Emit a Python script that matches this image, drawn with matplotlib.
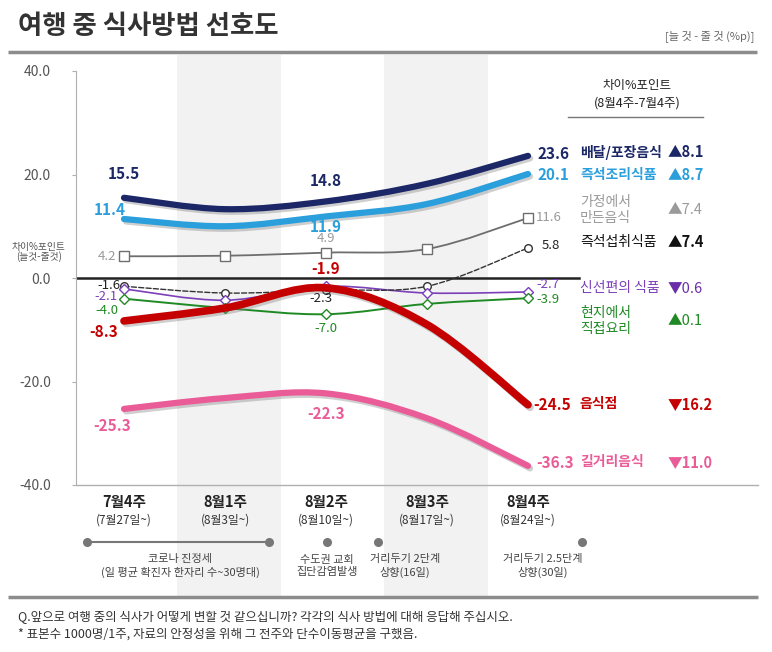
import numpy as np
import matplotlib
matplotlib.use('Agg')
import matplotlib.pyplot as plt
import matplotlib.patheffects as pe
from matplotlib.path import Path
from matplotlib.patches import PathPatch

plt.rcParams['font.family'] = ['Noto Sans CJK KR', 'DejaVu Sans']

# 데이터 (늘 것 - 줄 것, %p)
weeks = ['7월4주', '8월1주', '8월2주', '8월3주', '8월4주']
week_dates = ['(7월27일~)', '(8월3일~)', '(8월10일~)', '(8월17일~)', '(8월24일~)']

delivery = [15.5, 13.3, 14.8, 18.2, 23.6]      # 배달/포장음식
ready_cook = [11.4, 10.0, 11.9, 14.3, 20.1]    # 즉석조리식품
home_made = [4.2, 4.3, 4.9, 5.6, 11.6]         # 가정에서 만든음식
ready_eat = [-1.6, -2.9, -2.3, -1.6, 5.8]      # 즉석섭취식품
fresh_cut = [-2.1, -4.3, -1.6, -2.9, -2.7]     # 신선편의 식품
local_cook = [-4.0, -5.8, -7.0, -5.0, -3.9]    # 현지에서 직접요리
restaurant = [-8.3, -5.8, -1.9, -9.0, -24.5]   # 음식점
street = [-25.3, -23.2, -22.3, -27.1, -36.3]   # 길거리음식

names = ['배달/포장음식', '즉석조리식품', '가정에서\n만든음식', '즉석섭취식품',
         '신선편의 식품', '현지에서\n직접요리', '음식점', '길거리음식']

# 스타일: 색, 선굵기, 마커, 선종류, 그림자, 굵은 라벨, 라벨 위치(인덱스, dx, dy, ha)
styles = [
    dict(data=delivery, c='#1b2766', lw=4.5, m=None, ls='-', shadow=True, bold=True,
         labels=[(0, 0, 24, 'center'), (2, 0, 20, 'center'), (4, 10, 2, 'left')], ny=152, nc='#1b2766', dc='#1b2766'),
    dict(data=ready_cook, c='#2a9fdc', lw=4.5, m=None, ls='-', shadow=True, bold=True,
         labels=[(0, -14, 9, 'center'), (2, 0, -11, 'center'), (4, 10, -1, 'left')], ny=175, nc='#2a9fdc', dc='#2a9fdc'),
    dict(data=home_made, c='#6e6e6e', lw=1.3, m='s', ls='-', shadow=False, bold=False,
         labels=[(0, -8, 0, 'right'), (2, 0, 14, 'center'), (4, 8, 0, 'left')], ny=210, nc='#9a9a9a', dc='#9a9a9a', lc='#9a9a9a'),
    dict(data=ready_eat, c='#333333', lw=1.0, m='o', ls='--', shadow=False, bold=False,
         labels=[(0, -3, 1, 'right'), (2, -5, -9, 'center'), (4, 14, 2, 'left')], ny=242, nc='#111111', dc='#111111', lc='#222222'),
    dict(data=fresh_cut, c='#7b3fb8', lw=1.2, m='D', ls='-', shadow=False, bold=False,
         labels=[(0, -6, -8, 'right'), (4, 8, 7, 'left')], ny=288, nc='#7b3fb8', dc='#6a2fa8'),
    dict(data=local_cook, c='#1f8a24', lw=1.4, m='D', ls='-', shadow=False, bold=False,
         labels=[(0, -6, -12, 'right'), (2, 0, -14, 'center'), (4, 8, -1, 'left')], ny=321, nc='#1f8a24', dc='#1f8a24'),
    dict(data=restaurant, c='#c40000', lw=5.5, m=None, ls='-', shadow=True, bold=True,
         labels=[(0, -6, -11, 'right'), (2, 0, 19, 'center'), (4, 5, 0, 'left')], ny=404, nc='#c40000', dc='#c40000'),
    dict(data=street, c='#ea5c98', lw=4.5, m=None, ls='-', shadow=True, bold=True,
         labels=[(0, -12, -17, 'center'), (2, 0, -21, 'center'), (4, 8, 3, 'left')], ny=462, nc='#ea5c98', dc='#ea5c98'),
]

events = [
    ('코로나 진정세\n(일 평균 확진자 한자리 수~30명대)', [87, 269], 180),
    ('수도권 교회\n집단감염발생', [327], 327),
    ('거리두기 2단계\n상향(16일)', [378], 405),
    ('거리두기 2.5단계\n상향(30일)', [582], 543),
]


def smooth_path(xs, ys):
    pts = np.column_stack([xs, ys]).astype(float)
    n = len(pts)
    verts = [pts[0]]
    codes = [Path.MOVETO]
    for i in range(n - 1):
        p0 = pts[i - 1] if i > 0 else pts[i]
        p1 = pts[i]
        p2 = pts[i + 1]
        p3 = pts[i + 2] if i + 2 < n else pts[i + 1]
        verts += [p1 + (p2 - p0) / 6, p2 - (p3 - p1) / 6, p2]
        codes += [Path.CURVE4] * 3
    return Path(verts, codes)


W, H = 772, 652
fig = plt.figure(figsize=(W / 100, H / 100), dpi=100)

# 메인 축: 픽셀 76~764, 55~597
ax = fig.add_axes([76 / W, 1 - 597 / H, (764 - 76) / W, (597 - 55) / H])
ppu = (485 - 71) / 80
ax.set_ylim(-40 - (597 - 485) / ppu, 40 + (71 - 55) / ppu)
ax.set_xlim((76 - 124) / 101, (764 - 124) / 101)
ax.patch.set_alpha(0)
for s in ['top', 'right', 'bottom']:
    ax.spines[s].set_visible(False)
ax.spines['left'].set_bounds(-40, 40)
ax.spines['left'].set_color('#b0b0b0')
ax.set_yticks([-40, -20, 0, 20, 40])
ax.set_yticklabels([f'{v:.1f}' for v in [-40, -20, 0, 20, 40]])
ax.tick_params(axis='y', length=3, color='#b0b0b0', labelcolor='#555555', labelsize=10, pad=15)
ax.set_xticks([])

for a, b in [(0.52, 1.55), (2.57, 3.6)]:
    ax.axvspan(a, b, color='#f2f2f2', zorder=0, lw=0)
ax.axhline(-40, xmin=0, xmax=(758 - 76) / (764 - 76), color='#b0b0b0', lw=1, zorder=1)
ax.axhline(0, xmin=0, xmax=(579 - 76) / (764 - 76), color='#222222', lw=1.8, zorder=2)

x = np.arange(len(weeks))
for i, st in enumerate(styles):
    d = st['data']
    effects = None
    if st['shadow']:
        effects = [pe.SimpleLineShadow(offset=(1.5, -1.8), shadow_color='#777777', alpha=0.35), pe.Normal()]
    patch = PathPatch(smooth_path(x, d), fill=False, edgecolor=st['c'], lw=st['lw'],
                      linestyle=st['ls'], capstyle='round', zorder=3 + (5 if st['shadow'] else 0) - i * 0.1,
                      path_effects=effects)
    ax.add_patch(patch)
    if st['m']:
        ms = 6.5 if st['m'] == 's' else (5.5 if st['m'] == 'o' else 5)
        ax.plot(x, d, linestyle='none', marker=st['m'], ms=ms, mfc='white', mec=st['c'],
                mew=1.0, zorder=6)
    lc = st.get('lc', st['c'])
    for idx, dx, dy, ha in st['labels']:
        ax.annotate(f'{d[idx]:.1f}', (x[idx], d[idx]), xytext=(dx, dy), textcoords='offset pixels',
                    ha=ha, va='center', color=lc, fontsize=11 if st['bold'] else 9.5,
                    fontweight='bold' if st['bold'] else 'normal', zorder=10)

for i, (w, dt) in enumerate(zip(weeks, week_dates)):
    ax.text(x[i], -40 - (502 - 485) / ppu, w, ha='center', va='center', fontsize=10.5,
            fontweight='bold', color='#222222')
    ax.text(x[i], -40 - (520 - 485) / ppu, dt, ha='center', va='center', fontsize=8.5,
            color='#333333')

# 오버레이 (픽셀 좌표)
ov = fig.add_axes([0, 0, 1, 1])
ov.set_xlim(0, W)
ov.set_ylim(H, 0)
ov.axis('off')
ov.patch.set_alpha(0)

ov.text(18, 27, '여행 중 식사방법 선호도', fontsize=19, fontweight='bold', color='#333333',
        ha='left', va='center')
ov.text(754, 36, '[늘 것 - 줄 것 (%p)]', fontsize=8, color='#666666', ha='right', va='center')
ov.plot([8, 757], [52, 52], color='#8c8c8c', lw=2.5, solid_capstyle='butt')
ov.plot([8, 758], [597, 597], color='#8c8c8c', lw=2.5, solid_capstyle='butt')

ov.text(39, 252, '차이%포인트\n(늘것-줄것)', fontsize=7, color='#555555', ha='center', va='center',
        linespacing=1.0)

ov.text(637, 85, '차이%포인트', fontsize=9, color='#222222', ha='center', va='center')
ov.text(637, 103, '(8월4주-7월4주)', fontsize=9, color='#222222', ha='center', va='center')
ov.plot([568, 703], [117, 117], color='#777777', lw=1)

for name, st in zip(names, styles):
    d = st['data']
    diff = d[-1] - d[0]
    mark = '▲' if diff >= 0 else '▼'
    ov.text(580, st['ny'], name, fontsize=10, color=st['nc'], ha='left', va='center',
            fontweight='bold' if st['bold'] else 'normal', linespacing=1.1)
    ov.text(668, st['ny'], f'{mark}{abs(diff):.1f}', fontsize=10.5, color=st['dc'], ha='left',
            va='center', fontweight='bold' if st['bold'] or name == '즉석섭취식품' else 'normal')

for text, xs, tx in events:
    ov.plot(xs, [542] * len(xs), color='#777777', lw=1.5, marker='o', ms=5.5, zorder=5)
    ov.text(tx, 566, text, fontsize=8, color='#444444', ha='center', va='center', linespacing=1.2)

ov.text(18, 617, 'Q.앞으로 여행 중의 식사가 어떻게 변할 것 같으십니까? 각각의 식사 방법에 대해 응답해 주십시오.',
        fontsize=9, color='#333333', ha='left', va='center')
ov.text(18, 634, '* 표본수 1000명/1주, 자료의 안정성을 위해 그 전주와 단수이동평균을 구했음.',
        fontsize=9, color='#333333', ha='left', va='center')

fig.savefig('out.png', dpi=100)
